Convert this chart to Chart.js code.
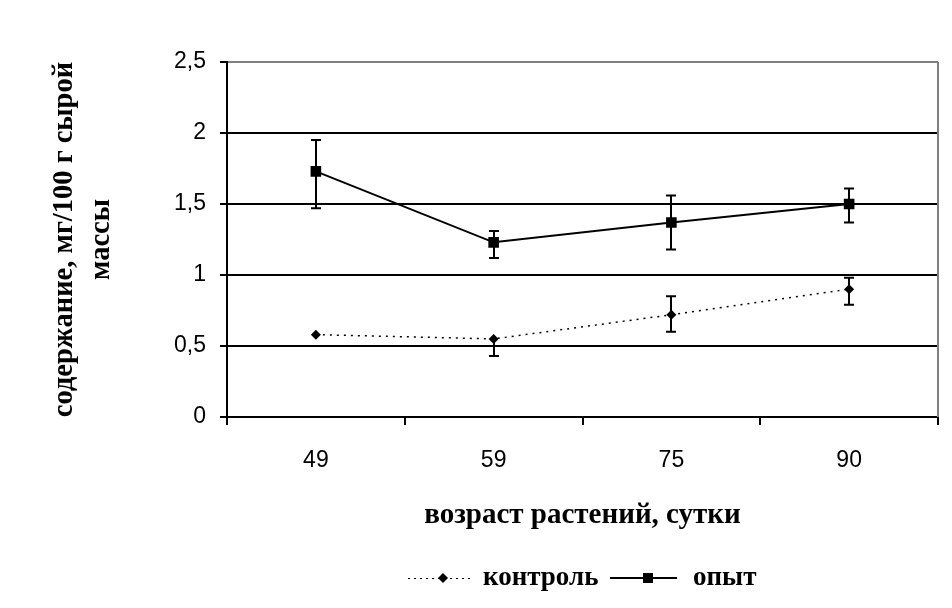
<!DOCTYPE html>
<html>
<head>
<meta charset="utf-8">
<script src="https://cdn.jsdelivr.net/npm/chart.js@4.4.1/dist/chart.umd.min.js"></script>
<style>
  html, body { margin: 0; padding: 0; background: #fff; }
  #wrap { width: 952px; height: 608px; }
</style>
</head>
<body>
<div id="wrap"><canvas id="chart" width="952" height="608"></canvas></div>
<script>
// plant age, days
const ages = ['49', '59', '75', '90']

// control
const controlValues = [0.58, 0.55, 0.72, 0.90]
const controlErrPlus = [0, 0, 0.13, 0.08]
const controlErrMinus = [0, 0.12, 0.12, 0.11]

// trial
const trialValues = [1.73, 1.23, 1.37, 1.50]
const trialErrPlus = [0.22, 0.08, 0.19, 0.11]
const trialErrMinus = [0.26, 0.11, 0.19, 0.13]

const legendLabels = ['контроль', 'опыт']

const serif = "'Liberation Serif', 'Times New Roman', serif"
const tickFont = { family: "'Liberation Sans', Arial, sans-serif", size: 23 }

// vertical error bars drawn through the y scale
const errorBars = {
  id: 'errorBars',
  afterDatasetsDraw(chart) {
    const ctx = chart.ctx
    const yScale = chart.scales.y
    ctx.save()
    ctx.strokeStyle = '#000'
    ctx.lineWidth = 2
    chart.data.datasets.forEach((ds, i) => {
      chart.getDatasetMeta(i).data.forEach((pt, j) => {
        const v = ds.data[j]
        const x = Math.round(pt.x)
        const ends = []
        if (ds.errPlus[j] > 0) ends.push(yScale.getPixelForValue(v + ds.errPlus[j]))
        if (ds.errMinus[j] > 0) ends.push(yScale.getPixelForValue(v - ds.errMinus[j]))
        ends.forEach((yEnd) => {
          ctx.beginPath()
          ctx.moveTo(x, pt.y)
          ctx.lineTo(x, yEnd)
          ctx.moveTo(x - 5, yEnd)
          ctx.lineTo(x + 5, yEnd)
          ctx.stroke()
        })
      })
    })
    ctx.restore()
  }
}

// grey frame on the right side of the plot area
const plotFrame = {
  id: 'plotFrame',
  beforeDatasetsDraw(chart) {
    const { ctx, chartArea } = chart
    ctx.save()
    ctx.strokeStyle = '#808080'
    ctx.lineWidth = 2
    ctx.beginPath()
    ctx.moveTo(chartArea.right, chartArea.top)
    ctx.lineTo(chartArea.right, chartArea.bottom)
    ctx.stroke()
    ctx.restore()
  }
}

// legend with line + marker samples, like the original
const lineLegend = {
  id: 'lineLegend',
  afterDraw(chart) {
    const ctx = chart.ctx
    const y = 578
    ctx.save()
    ctx.strokeStyle = '#000'
    ctx.fillStyle = '#000'
    ctx.font = 'bold 27px ' + serif
    ctx.textBaseline = 'middle'

    // контроль
    ctx.lineWidth = 1
    ctx.setLineDash([2, 4])
    ctx.beginPath()
    ctx.moveTo(408, y + 0.5)
    ctx.lineTo(472, y + 0.5)
    ctx.stroke()
    ctx.setLineDash([])
    ctx.beginPath()
    ctx.moveTo(443, y - 5)
    ctx.lineTo(448, y)
    ctx.lineTo(443, y + 5)
    ctx.lineTo(438, y)
    ctx.closePath()
    ctx.fill()
    ctx.fillText(legendLabels[0], 483, y)

    // опыт
    ctx.lineWidth = 2
    ctx.beginPath()
    ctx.moveTo(610, y)
    ctx.lineTo(677, y)
    ctx.stroke()
    ctx.fillRect(643, y - 5, 10, 10)
    ctx.fillText(legendLabels[1], 693, y)
    ctx.restore()
  }
}

new Chart(document.getElementById('chart').getContext('2d'), {
  type: 'line',
  data: {
    labels: ages,
    datasets: [
      {
        label: legendLabels[0],
        data: controlValues,
        errPlus: controlErrPlus,
        errMinus: controlErrMinus,
        borderColor: '#000',
        backgroundColor: '#000',
        borderWidth: 1.5,
        borderDash: [2, 5],
        pointStyle: 'rectRot',
        pointRadius: 5,
        pointBorderWidth: 0,
        tension: 0
      },
      {
        label: legendLabels[1],
        data: trialValues,
        errPlus: trialErrPlus,
        errMinus: trialErrMinus,
        borderColor: '#000',
        backgroundColor: '#000',
        borderWidth: 2,
        pointStyle: 'rect',
        pointRadius: 7.5,
        pointBorderWidth: 0,
        tension: 0
      }
    ]
  },
  options: {
    responsive: false,
    animation: false,
    layout: { padding: { top: 62, right: 14, bottom: 60, left: 0 } },
    plugins: {
      legend: { display: false },
      tooltip: { enabled: false }
    },
    scales: {
      x: {
        offset: true,
        afterFit: (scale) => { scale.height = 131 },
        grid: { offset: true, drawOnChartArea: false, tickLength: 8, color: '#000', lineWidth: 2 },
        border: { color: '#000', width: 2 },
        ticks: { font: tickFont, color: '#000', padding: 22 },
        title: {
          display: true,
          text: 'возраст растений, сутки',
          font: { family: serif, size: 29, weight: 'bold' },
          color: '#000',
          padding: { top: 0, bottom: 15 }
        }
      },
      y: {
        min: 0,
        max: 2.5,
        afterFit: (scale) => { scale.width = 227 },
        grid: {
          color: (c) => (c.tick && c.tick.value === 2.5 ? '#808080' : '#000'),
          tickColor: '#000',
          tickLength: 7,
          lineWidth: 2
        },
        border: { color: '#000', width: 2 },
        ticks: {
          stepSize: 0.5,
          font: tickFont,
          color: '#000',
          padding: 14,
          callback: (v) => String(v).replace('.', ',')
        },
        title: {
          display: true,
          text: ['содержание, мг/100 г сырой', 'массы'],
          font: { family: serif, size: 28.5, weight: 'bold', lineHeight: 1.3 },
          color: '#000',
          padding: { top: 46, bottom: 0 }
        }
      }
    }
  },
  plugins: [errorBars, plotFrame, lineLegend]
})
</script>
</body>
</html>
